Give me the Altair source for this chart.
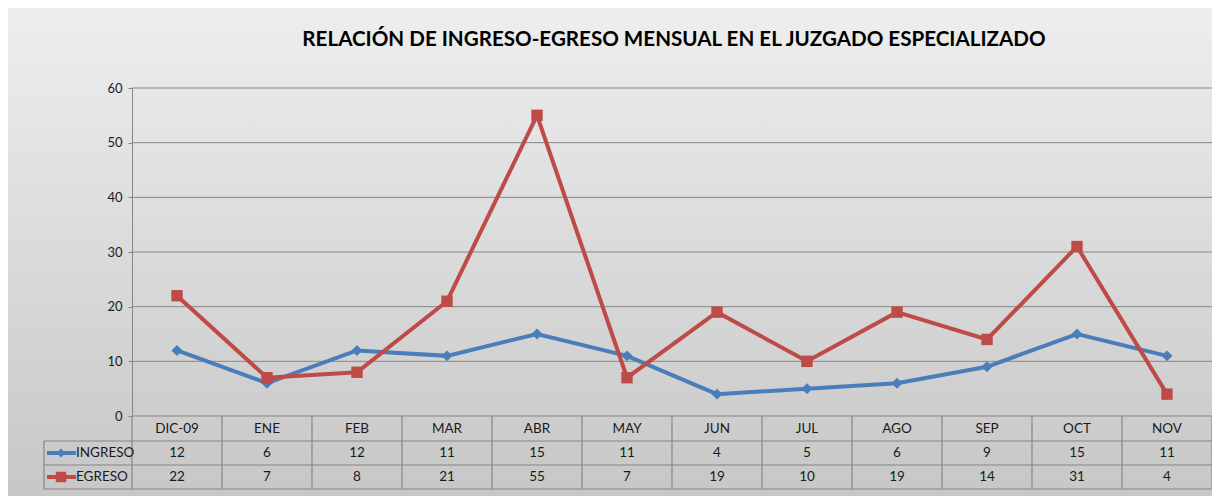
import altair as alt
import pandas as pd

# ---- data ----
categories = ["DIC-09", "ENE", "FEB", "MAR", "ABR", "MAY", "JUN", "JUL", "AGO", "SEP", "OCT", "NOV"]
ingreso = [12, 6, 12, 11, 15, 11, 4, 5, 6, 9, 15, 11]
egreso = [22, 7, 8, 21, 55, 7, 19, 10, 19, 14, 31, 4]
series_names = ["INGRESO", "EGRESO"]
y_ticks = [0, 10, 20, 30, 40, 50, 60]
title_text = "RELACIÓN DE INGRESO-EGRESO MENSUAL EN EL JUZGADO ESPECIALIZADO"

# ---- layout / style ----
W, H = 1080, 328
PAD = {"left": 124, "top": 80, "right": 0, "bottom": 80}
BLUE, RED = "#4a7ebb", "#be4b48"
GRID = "#868686"
FONT = "Lato"
ROW1, ROW2, ROW3 = 25, 49, 73  # table row bottoms below plot
LEG_X = -88

df = pd.DataFrame({
    "cat": categories * 2,
    "series": ["INGRESO"] * len(categories) + ["EGRESO"] * len(categories),
    "value": ingreso + egreso,
})
cats_df = pd.DataFrame({"cat": categories})
ticks_df = pd.DataFrame({"v": y_ticks})
one = pd.DataFrame({"a": [0]})

xscale = alt.Scale(type="band", domain=categories, paddingInner=0, paddingOuter=0)
yscale = alt.Scale(domain=[0, 60], nice=False)
xaxis = alt.Axis(title=None, ticks=False, domain=False, labelAngle=0,
                 labelPadding=12, labelBaseline="middle", labelFontSize=13.5,
                 labelFont=FONT, labelColor="#1a1a1a", zindex=1, grid=False)

X = alt.X("cat:N", scale=xscale, sort=categories, axis=xaxis)

bg = alt.Chart(one).mark_rect(
    fill=alt.LinearGradient(gradient="linear", x1=0, y1=0, x2=0, y2=1,
                            stops=[alt.GradientStop(color="#eeeeee", offset=0),
                                   alt.GradientStop(color="#c7c7c7", offset=1)])
).encode(x=alt.value(-PAD["left"]), x2=alt.value(W), y=alt.value(-PAD["top"]),
         y2=alt.value(H + PAD["bottom"]))

grid = alt.Chart(ticks_df).mark_rule(color=GRID, strokeWidth=1).encode(
    y=alt.Y("v:Q", scale=yscale,
            axis=alt.Axis(title=None, values=y_ticks, grid=False, domainColor=GRID,
                          tickColor=GRID, tickSize=4, labelPadding=6, labelFontSize=13,
                          labelFont=FONT, labelColor="#1a1a1a", zindex=1)),
    x=alt.value(0), x2=alt.value(W))

# table lines
vlines = alt.Chart(cats_df).mark_rule(color=GRID, strokeWidth=1.2).encode(
    x=alt.X("cat:N", scale=xscale, sort=categories, bandPosition=0, axis=xaxis),
    y=alt.value(H), y2=alt.value(H + ROW3))
rline = alt.Chart(one).mark_rule(color=GRID, strokeWidth=1.2).encode(
    x=alt.value(W), y=alt.value(H), y2=alt.value(H + ROW3))
lline = alt.Chart(one).mark_rule(color=GRID, strokeWidth=1.2).encode(
    x=alt.value(LEG_X), y=alt.value(H + ROW1), y2=alt.value(H + ROW3))
hlines = [
    alt.Chart(one).mark_rule(color=GRID, strokeWidth=1.2).encode(
        x=alt.value(LEG_X), x2=alt.value(W), y=alt.value(H + r))
    for r in (ROW1, ROW2, ROW3)
]

def series_layers(name, color, shape, size):
    d = alt.Chart(df).transform_filter(alt.datum.series == name)
    line = d.mark_line(color=color, strokeWidth=4).encode(
        x=X, y=alt.Y("value:Q", scale=yscale))
    pts = d.mark_point(color=color, fill=color, filled=True, opacity=1, shape=shape,
                       size=size).encode(x=X, y=alt.Y("value:Q", scale=yscale))
    return line, pts

bl, bp = series_layers("INGRESO", BLUE, "diamond", 120)
rl, rp = series_layers("EGRESO", RED, "square", 130)

def table_row(name, ry):
    return alt.Chart(df).transform_filter(alt.datum.series == name).mark_text(
        font=FONT, fontSize=13.5, color="#1a1a1a", baseline="middle").encode(
        x=X, y=alt.value(H + ry), text="value:Q")

t1 = table_row("INGRESO", 37)
t2 = table_row("EGRESO", 61)

def legend_cell(name, color, shape, size, ry):
    leg_df = pd.DataFrame({"series": [name]})
    base = alt.Chart(leg_df)
    seg = base.mark_rule(color=color, strokeWidth=4).encode(
        x=alt.value(LEG_X + 3), x2=alt.value(LEG_X + 32), y=alt.value(H + ry))
    mk = base.mark_point(color=color, fill=color, filled=True, opacity=1, shape=shape,
                         size=size).encode(x=alt.value(LEG_X + 17), y=alt.value(H + ry))
    tx = base.mark_text(font=FONT, fontSize=13.5, color="#1a1a1a", align="left",
                        baseline="middle").encode(
        x=alt.value(LEG_X + 32), y=alt.value(H + ry), text="series:N")
    return [seg, mk, tx]

title = alt.Chart(pd.DataFrame({"t": [title_text]})).mark_text(
    font=FONT, fontSize=20.6, fontWeight="bold", color="#000000", baseline="middle",
    align="center").encode(x=alt.value(W / 2 + 2), y=alt.value(-48), text="t:N")

layers = [bg, grid, vlines, rline, lline] + hlines + [bl, bp, rl, rp, t1, t2] \
    + legend_cell("INGRESO", BLUE, "diamond", 80, 37) \
    + legend_cell("EGRESO", RED, "square", 110, 61) + [title]

chart = alt.layer(*layers).properties(
    width=W, height=H,
    autosize=alt.AutoSizeParams(type="none"),
    padding=PAD,
).configure_view(stroke=None).configure(background="#ffffff")

chart.save("out.html", embed_options={"renderer": "svg", "actions": False})
